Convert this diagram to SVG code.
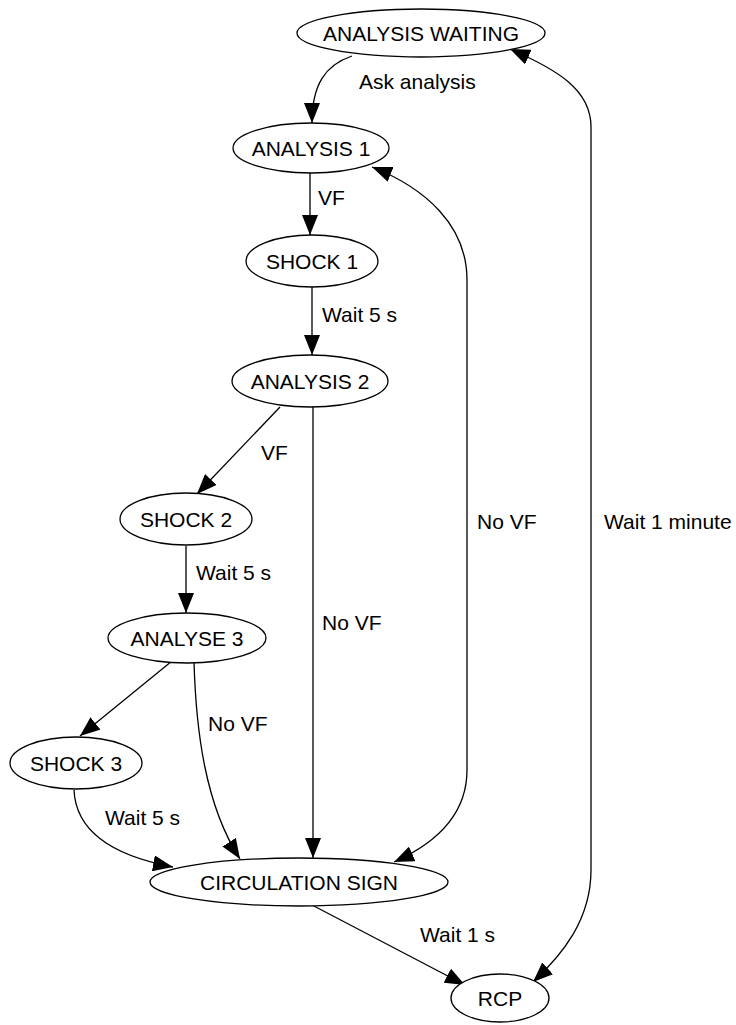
<svg xmlns="http://www.w3.org/2000/svg" width="736" height="1025" viewBox="0 0 736 1025">
<style>
.n ellipse{fill:#fff;stroke:#000;stroke-width:1.3}
text{font-family:"Liberation Sans",Arial,sans-serif;font-size:21px;fill:#000}
.n text{text-anchor:middle}
.e path{fill:none;stroke:#000;stroke-width:1.3}
</style>
<defs>
<marker id="ah" markerUnits="userSpaceOnUse" markerWidth="20" markerHeight="16" refX="20" refY="8" orient="auto-start-reverse" viewBox="0 0 20 16">
<path d="M0,0 L20,8 L0,16 Z" fill="#000"/>
</marker>
</defs>
<rect width="736" height="1025" fill="#fff"/>
<g id="edges" class="e">
<path d="M352,56 C325,65 312,85 312,123" marker-end="url(#ah)"/>
<path d="M310,173 L310,235" marker-end="url(#ah)"/>
<path d="M312,287 L312,355" marker-end="url(#ah)"/>
<path d="M280,407 L197,494" marker-end="url(#ah)"/>
<path d="M313,407 L313,858" marker-end="url(#ah)"/>
<path d="M186,546 L186,613" marker-end="url(#ah)"/>
<path d="M172,661 L80,736" marker-end="url(#ah)"/>
<path d="M194,662 C196,730 205,805 240,859" marker-end="url(#ah)"/>
<path d="M74,790 C76,835 120,857 173,867" marker-end="url(#ah)"/>
<path d="M372,167 C425,188 467,225 467,280 L467,770 C467,818 432,845 394,862" marker-start="url(#ah)" marker-end="url(#ah)"/>
<path d="M510,49 C558,70 591,90 591,127 L591,870 C591,920 562,955 533,982" marker-start="url(#ah)" marker-end="url(#ah)"/>
<path d="M312,905 L465,985" marker-end="url(#ah)"/>
<text x="359" y="89">Ask analysis</text>
<text x="318" y="205">VF</text>
<text x="322" y="322">Wait 5 s</text>
<text x="261" y="460">VF</text>
<text x="196" y="580">Wait 5 s</text>
<text x="322" y="630">No VF</text>
<text x="208" y="731">No VF</text>
<text x="105" y="825">Wait 5 s</text>
<text x="420" y="942">Wait 1 s</text>
<text x="477" y="529">No VF</text>
<text x="604" y="529">Wait 1 minute</text>
</g>
<g id="analysis_waiting" class="n"><ellipse cx="421" cy="33" rx="124" ry="24"/><text x="421" y="40.5">ANALYSIS WAITING</text></g>
<g id="analysis1" class="n"><ellipse cx="311" cy="148" rx="78" ry="25"/><text x="311" y="155.5">ANALYSIS 1</text></g>
<g id="shock1" class="n"><ellipse cx="312" cy="261" rx="66" ry="26"/><text x="312" y="268.5">SHOCK 1</text></g>
<g id="analysis2" class="n"><ellipse cx="310" cy="381" rx="78" ry="26"/><text x="310" y="388.5">ANALYSIS 2</text></g>
<g id="shock2" class="n"><ellipse cx="186" cy="519" rx="66" ry="26"/><text x="186" y="526.5">SHOCK 2</text></g>
<g id="analyse3" class="n"><ellipse cx="187" cy="638" rx="79" ry="25"/><text x="187" y="645.5">ANALYSE 3</text></g>
<g id="shock3" class="n"><ellipse cx="76" cy="763" rx="66" ry="26"/><text x="76" y="770.5">SHOCK 3</text></g>
<g id="circulation_sign" class="n"><ellipse cx="299" cy="882" rx="149" ry="24"/><text x="299" y="889.5">CIRCULATION SIGN</text></g>
<g id="rcp" class="n"><ellipse cx="500" cy="998" rx="49" ry="24"/><text x="500" y="1005.5">RCP</text></g>
</svg>
